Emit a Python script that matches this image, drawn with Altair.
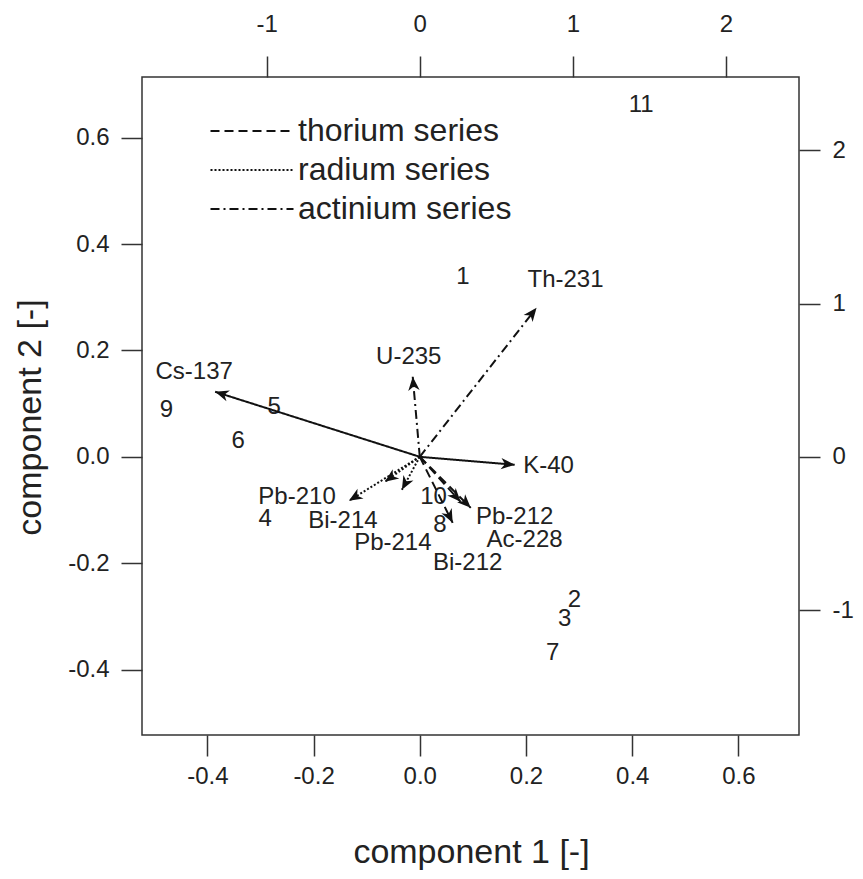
import altair as alt
import pandas as pd

# observations (scores) on component 1 / component 2 (bottom / left axes)
obs_labels = ["1", "2", "3", "4", "5", "6", "7", "8", "9", "10", "11"]
obs_pc1 = [0.081, 0.291, 0.273, -0.291, -0.274, -0.342, 0.250, 0.038, -0.477, 0.026, 0.417]
obs_pc2 = [0.338, -0.269, -0.305, -0.117, 0.094, 0.030, -0.368, -0.128, 0.088, -0.075, 0.662]

# variables (loadings) on top / right axes
var_names = ["Cs-137", "K-40", "U-235", "Th-231", "Pb-210", "Bi-214", "Pb-214",
             "Pb-212", "Ac-228", "Bi-212"]
var_series = ["none", "none", "actinium series", "actinium series",
              "radium series", "radium series", "radium series",
              "thorium series", "thorium series", "thorium series"]
var_x = [-1.337, 0.620, -0.046, 0.763, -0.463, -0.228, -0.117, 0.333, 0.267, 0.215]
var_y = [0.424, -0.052, 0.522, 0.972, -0.287, -0.163, -0.215, -0.333, -0.294, -0.431]
lab_x = [-1.474, 0.841, -0.072, 0.952, -0.802, -0.502, -0.176, 0.620, 0.685, 0.313]
lab_y = [0.554, -0.059, 0.652, 1.155, -0.261, -0.417, -0.561, -0.391, -0.541, -0.691]

series_domain = ["thorium series", "radium series", "actinium series", "none"]
series_dash = [[9, 5], [2, 2], [9, 4, 2, 4], [1, 0]]

prim_ticks = [-0.4, -0.2, 0.0, 0.2, 0.4, 0.6]
sec_ticks = [-1, 0, 1, 2]

prim_dom = [-0.523, 0.714]
ratio = 3.47
sec_dom = [prim_dom[0] * ratio, prim_dom[1] * ratio]

obs = pd.DataFrame({"label": obs_labels, "pc1": obs_pc1, "pc2": obs_pc2})
var = pd.DataFrame({"name": var_names, "series": var_series,
                    "x": var_x, "y": var_y, "lx": lab_x, "ly": lab_y})
var["x0"] = 0.0
var["y0"] = 0.0

FONT = "Liberation Sans"
TXT = "#222222"
HYPHEN = "replace(datum.label, '\u2212', '-')"

x_prim = alt.X("pc1:Q", scale=alt.Scale(domain=prim_dom, nice=False, zero=False),
               axis=alt.Axis(orient="bottom", values=prim_ticks, format=".1f",
                             labelExpr=HYPHEN,
                             title="component 1 [-]", labelPadding=8,
                             titleX=329, titleY=117, titleBaseline="middle",
                             titleAlign="center"))
y_prim = alt.Y("pc2:Q", scale=alt.Scale(domain=prim_dom, nice=False, zero=False),
               axis=alt.Axis(orient="left", values=prim_ticks, format=".1f",
                             labelExpr=HYPHEN,
                             title="component 2 [-]", labelPadding=12,
                             titleX=-112, titleY=340, titleBaseline="middle",
                             titleAlign="center", titleAngle=270))

obs_layer = alt.Chart(obs).mark_text(fontSize=24, font=FONT, color=TXT,
                                     align="center", baseline="middle").encode(
    x=x_prim, y=y_prim, text="label:N")

sec_x_axis = alt.Axis(orient="top", values=sec_ticks, format="d", title=None,
                      labelExpr=HYPHEN, labelPadding=20)
sec_y_axis = alt.Axis(orient="right", values=sec_ticks, format="d", title=None,
                      labelExpr=HYPHEN, labelPadding=12)
sx = alt.Scale(domain=sec_dom, nice=False, zero=False)
sy = alt.Scale(domain=sec_dom, nice=False, zero=False)

base = alt.Chart(var)

shafts = base.mark_rule(strokeWidth=2, color="#111111").encode(
    x=alt.X("x0:Q", scale=sx, axis=sec_x_axis),
    y=alt.Y("y0:Q", scale=sy, axis=sec_y_axis),
    x2="x:Q", y2="y:Q",
    strokeDash=alt.StrokeDash(
        "series:N",
        scale=alt.Scale(domain=series_domain, range=series_dash),
        legend=alt.Legend(values=series_domain[:3], title=None, orient="none",
                          legendX=94, legendY=38, symbolType="M-4.15,0L4.15,0",
                          symbolSize=400, symbolStrokeWidth=2,
                          symbolStrokeColor="#111111", labelOffset=30,
                          labelFontSize=32, labelFont=FONT, labelColor=TXT,
                          labelLimit=0, rowPadding=7, padding=0)),
)

heads = base.transform_calculate(
    ang="(atan2(datum.x, datum.y) * 180 / PI + 360) % 360"
).mark_point(shape="M0,0L-0.5,1.2L0,0.85L0.5,1.2Z", filled=True, size=520,
             color="#111111", opacity=1).encode(
    x=alt.X("x:Q", scale=sx, axis=sec_x_axis),
    y=alt.Y("y:Q", scale=sy, axis=sec_y_axis),
    angle=alt.Angle("ang:Q", scale=None),
)

labels = base.mark_text(fontSize=24, font=FONT, color=TXT, align="center",
                        baseline="middle").encode(
    x=alt.X("lx:Q", scale=sx, axis=sec_x_axis),
    y=alt.Y("ly:Q", scale=sy, axis=sec_y_axis),
    text="name:N",
)

var_layer = alt.layer(shafts, heads, labels)

chart = alt.layer(obs_layer, var_layer).resolve_scale(
    x="independent", y="independent", strokeDash="independent"
).properties(
    width=657, height=658,
    autosize=alt.AutoSizeParams(type="none"),
    padding={"left": 134, "top": 69, "right": 56, "bottom": 136},
).configure_view(
    stroke="#333333", strokeWidth=1.5
).configure_axis(
    domain=False, grid=False, tickSize=21, tickWidth=1.5, tickColor="#333333",
    labelFontSize=24, labelFont=FONT, labelColor=TXT,
    titleFontSize=34, titleFont=FONT, titleColor=TXT, titleFontWeight="normal",
)

chart.save("out.html", embed_options={"renderer": "svg", "actions": False})
